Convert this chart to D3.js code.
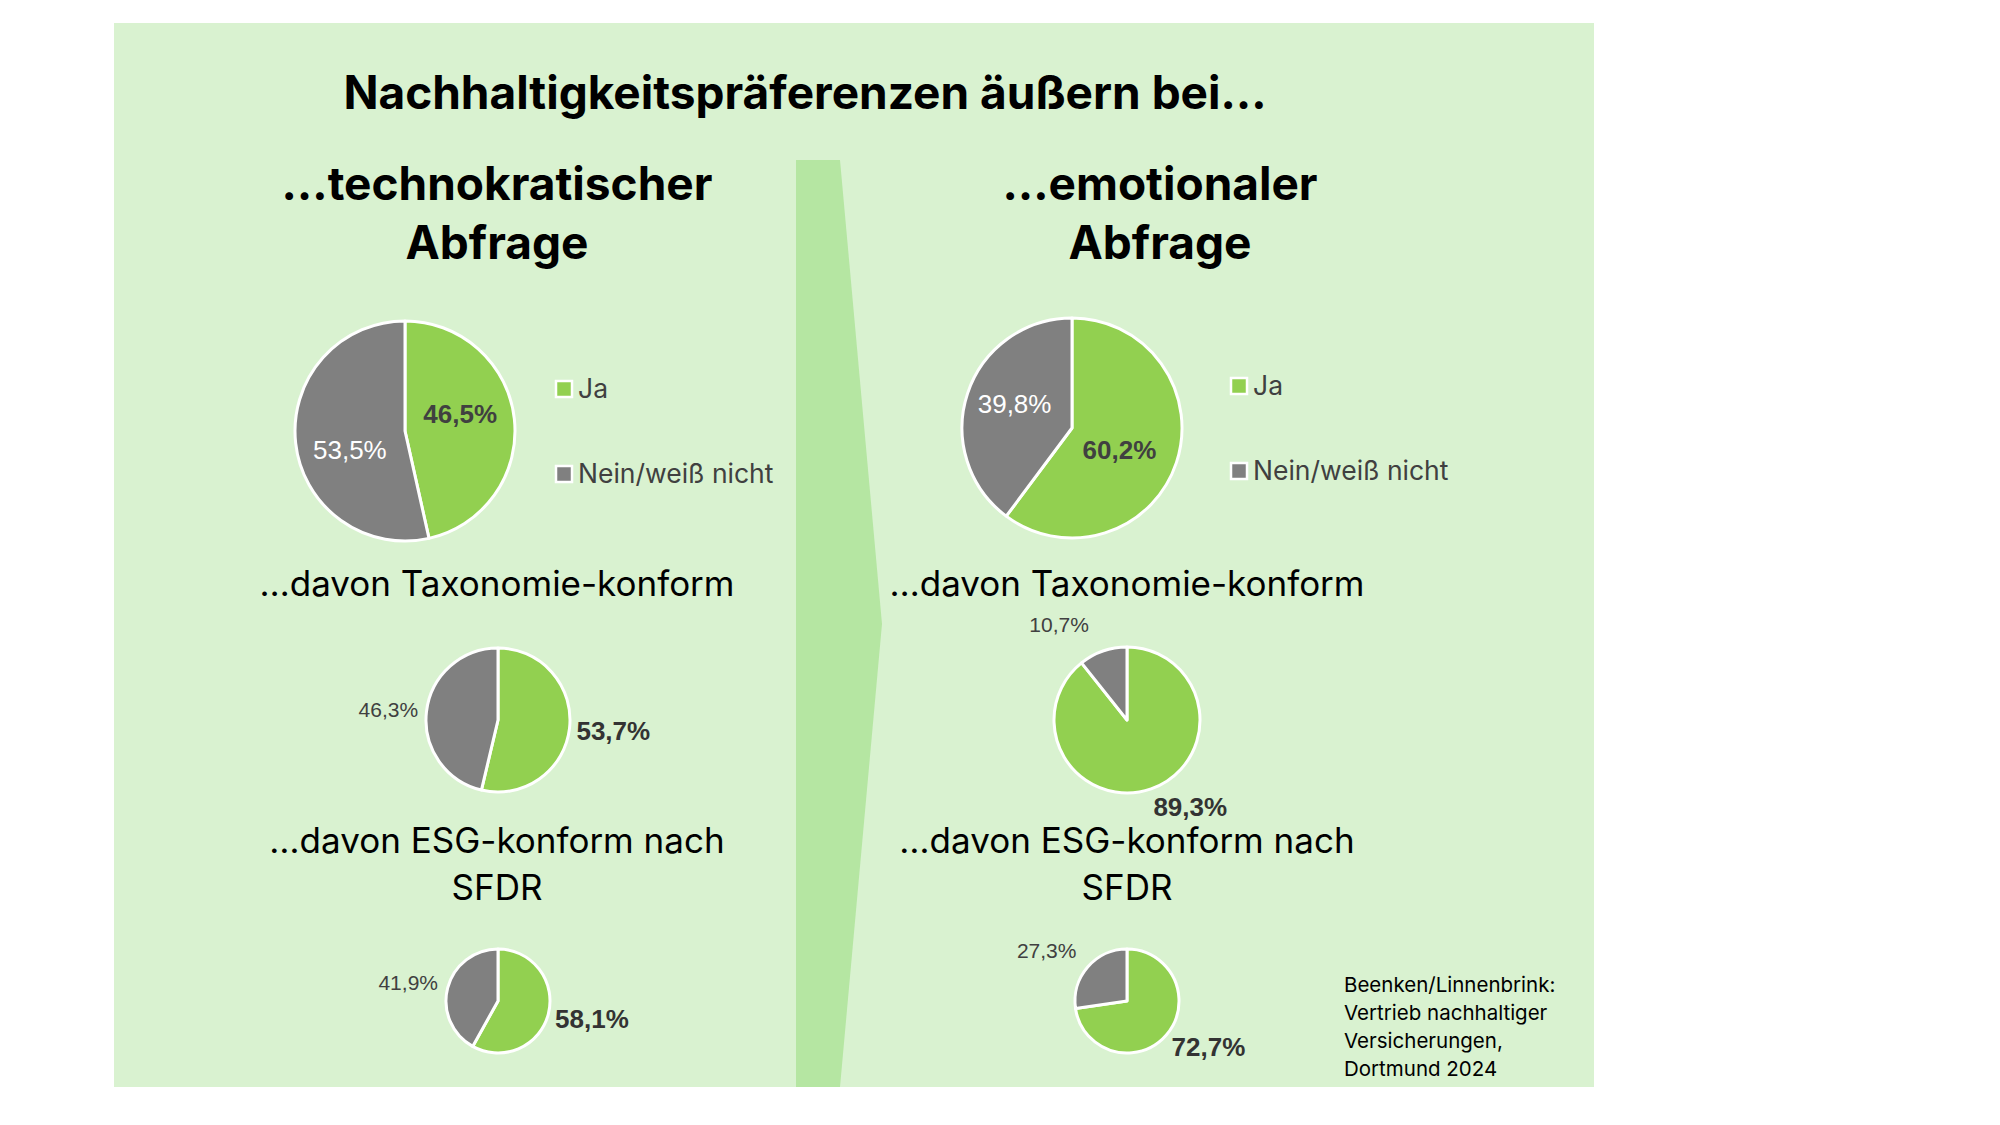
<!DOCTYPE html>
<html>
<head>
<meta charset="utf-8">
<script src="https://cdn.jsdelivr.net/npm/d3@7"></script>
<style>
  body { margin: 0; background: #fff; }
  text { font-family: Inter, "Noto Sans", sans-serif; }
</style>
</head>
<body>
<div id="chart"></div>
<script>
// values
const categories = ['Ja', 'Nein/weiß nicht']
const jaValues = [46.5, 60.2, 53.7, 89.3, 58.1, 72.7]
const neinValues = [53.5, 39.8, 46.3, 10.7, 41.9, 27.3]
const mainTitle = 'Nachhaltigkeitspräferenzen äußern bei…'
const columnTitles = [['…technokratischer', 'Abfrage'], ['…emotionaler', 'Abfrage']]
const sectionTitles = [['…davon Taxonomie-konform'], ['…davon ESG-konform nach', 'SFDR']]
const sourceLines = ['Beenken/Linnenbrink:', 'Vertrieb nachhaltiger', 'Versicherungen,', 'Dortmund 2024']

const W = 2000, H = 1125
const colors = { Ja: '#92d050', 'Nein/weiß nicht': '#808080' }
const colCenter = [497, 1127]

// layout of the six pies (col 0 = left, col 1 = right)
// nudge = small offsets for the inside labels [Ja, Nein], like excel's best fit
const pieLayout = [
  { cx: 405, cy: 431, r: 110, mode: 'inside', legendX: 556, nudge: [[-5, -10], [5, 12]] },
  { cx: 1072, cy: 428, r: 110, mode: 'inside', legendX: 1231, nudge: [[-10, 3], [0, -5]] },
  { cx: 498, cy: 720, r: 72, mode: 'outside' },
  { cx: 1127, cy: 720, r: 73, mode: 'outside' },
  { cx: 498, cy: 1001, r: 52, mode: 'outside' },
  { cx: 1127, cy: 1001, r: 52, mode: 'outside' }
]

const de = d3.formatLocale({ decimal: ',', thousands: '.', grouping: [3], currency: ['', '€'] })
const pct = v => de.format('.1f')(v) + '%'

const svg = d3.select('#chart').append('svg')
  .attr('width', W).attr('height', H)

svg.append('rect').attr('width', W).attr('height', H).attr('fill', '#fff')
svg.append('rect')
  .attr('x', 114).attr('y', 23).attr('width', 1480).attr('height', 1064)
  .attr('fill', '#d9f2d0')

// chevron band between the two columns
const band = [[796, 160], [840, 160], [882, 624], [840, 1087], [796, 1087]]
svg.append('path')
  .attr('d', d3.line()(band) + 'Z')
  .attr('fill', '#b5e6a2')

svg.append('text')
  .attr('x', 805).attr('y', 109)
  .attr('text-anchor', 'middle')
  .style('font-size', '46px').style('font-weight', 700)
  .attr('fill', '#000')
  .text(mainTitle)

const colTitleX = [497, 1160]
columnTitles.forEach((lines, c) => {
  lines.forEach((l, i) => {
    svg.append('text')
      .attr('x', colTitleX[c]).attr('y', 200 + i * 59)
      .attr('text-anchor', 'middle')
      .style('font-size', '46px').style('font-weight', 700)
      .text(l)
  })
})

const sectionY = [596, 853]
colCenter.forEach(cx => {
  sectionTitles.forEach((lines, s) => {
    lines.forEach((l, i) => {
      svg.append('text')
        .attr('x', cx).attr('y', sectionY[s] + i * 47)
        .attr('text-anchor', 'middle')
        .style('font-size', '35px')
        .attr('fill', '#000')
        .text(l)
    })
  })
})

const pie = d3.pie().sort(null).value(d => d.value)

pieLayout.forEach((p, k) => {
  let data = [
    { key: categories[0], value: jaValues[k] },
    { key: categories[1], value: neinValues[k] }
  ]
  let arcs = pie(data)
  let arc = d3.arc().innerRadius(0).outerRadius(p.r)
  let g = svg.append('g').attr('transform', `translate(${p.cx},${p.cy})`)

  g.selectAll('path')
    .data(arcs)
    .enter()
    .append('path')
    .attr('d', arc)
    .attr('fill', d => colors[d.data.key])
    .attr('stroke', '#fff')
    .attr('stroke-width', 3)
    .attr('stroke-linejoin', 'round')

  if (p.mode == 'inside') {
    let labelArc = d3.arc().innerRadius(p.r * 0.55).outerRadius(p.r * 0.55)
    g.selectAll('text.lbl')
      .data(arcs)
      .enter()
      .append('text')
      .attr('class', 'lbl')
      .attr('transform', (d, i) => {
        let c = labelArc.centroid(d)
        return `translate(${c[0] + p.nudge[i][0]},${c[1] + p.nudge[i][1]})`
      })
      .attr('text-anchor', 'middle')
      .attr('dy', '0.35em')
      .style('font-family', '"Liberation Sans", Arial, sans-serif')
      .style('font-size', '26px')
      .style('font-weight', d => d.data.key == 'Ja' ? 700 : 400)
      .attr('fill', d => d.data.key == 'Ja' ? '#404040' : '#fff')
      .text(d => pct(d.data.value))
  } else {
    g.selectAll('text.lbl')
      .data(arcs)
      .enter()
      .append('text')
      .attr('class', 'lbl')
      .each(function(d) {
        let a = (d.startAngle + d.endAngle) / 2
        let dx = Math.sin(a), dy = -Math.cos(a)
        let rr = p.r + 7 + Math.max(0, -dy) * 12
        let big = d.data.key == 'Ja'
        let fs = big ? 26 : 21
        d3.select(this)
          .attr('x', dx * rr - (dy < -0.9 ? 8 : 0))
          .attr('y', dy * rr + fs * 0.35 + dy * fs * 0.45)
          .attr('text-anchor', dx >= 0 ? 'start' : 'end')
          .style('font-family', '"Liberation Sans", Arial, sans-serif')
          .style('font-size', fs + 'px')
          .style('font-weight', big ? 700 : 400)
          .attr('fill', big ? '#333' : '#404040')
          .text(pct(d.data.value))
      })
  }

  if (p.legendX) {
    let ly = d3.scalePoint().domain(categories).range([p.cy - 42, p.cy + 43])
    let lg = svg.append('g')
    lg.selectAll('rect')
      .data(categories)
      .enter()
      .append('rect')
      .attr('x', p.legendX)
      .attr('y', d => ly(d) - 8)
      .attr('width', 16).attr('height', 16)
      .attr('fill', d => colors[d])
      .attr('stroke', '#fff').attr('stroke-width', 2.5)
    lg.selectAll('text')
      .data(categories)
      .enter()
      .append('text')
      .attr('x', p.legendX + 22)
      .attr('y', d => ly(d))
      .attr('dy', '0.35em')
      .style('font-size', '26.5px')
      .attr('fill', '#404040')
      .text(d => d)
  }
})

sourceLines.forEach((l, i) => {
  svg.append('text')
    .attr('x', 1344).attr('y', 992 + i * 28)
    .style('font-size', '20.5px')
    .attr('fill', '#000')
    .text(l)
})
</script>
</body>
</html>
